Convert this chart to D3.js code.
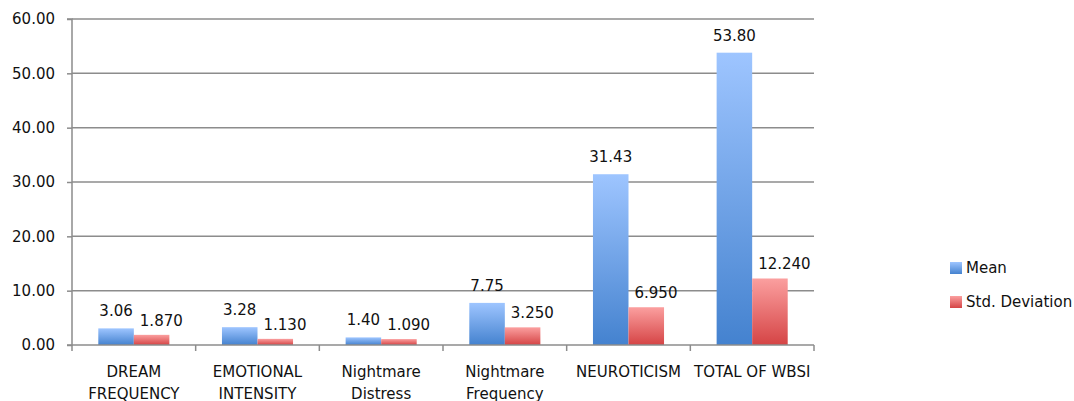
<!DOCTYPE html>
<html>
<head>
<meta charset="utf-8">
<script src="https://cdn.jsdelivr.net/npm/d3@7"></script>
<style>
  html, body { margin: 0; padding: 0; background: #fff; }
  svg { display: block; font-family: "DejaVu Sans", sans-serif; }
</style>
</head>
<body>
<svg id="chart" width="1074" height="401"></svg>
<script>
const categories = [
  ["DREAM", "FREQUENCY"],
  ["EMOTIONAL", "INTENSITY"],
  ["Nightmare", "Distress"],
  ["Nightmare", "Frequency"],
  ["NEUROTICISM"],
  ["TOTAL OF WBSI"]
];
const meanValues = [3.06, 3.28, 1.40, 7.75, 31.43, 53.80];
const sdValues = [1.870, 1.130, 1.090, 3.250, 6.950, 12.240];
const meanLabels = ["3.06", "3.28", "1.40", "7.75", "31.43", "53.80"];
const sdLabels = ["1.870", "1.130", "1.090", "3.250", "6.950", "12.240"];
const seriesNames = ["Mean", "Std. Deviation"];
const yTicks = [0, 10, 20, 30, 40, 50, 60];

const svg = d3.select("#chart");
const pLeft = 72, pRight = 814, pTop = 19, pBottom = 345;

const defs = svg.append("defs");
const gBlue = defs.append("linearGradient").attr("id", "gBlue")
  .attr("x1", 0).attr("y1", 0).attr("x2", 0).attr("y2", 1);
gBlue.append("stop").attr("offset", "0%").attr("stop-color", "#9ec5ff");
gBlue.append("stop").attr("offset", "100%").attr("stop-color", "#4482cf");
const gRed = defs.append("linearGradient").attr("id", "gRed")
  .attr("x1", 0).attr("y1", 0).attr("x2", 0).attr("y2", 1);
gRed.append("stop").attr("offset", "0%").attr("stop-color", "#fb9f9f");
gRed.append("stop").attr("offset", "100%").attr("stop-color", "#d54445");
const fills = ["url(#gBlue)", "url(#gRed)"];

const idx = d3.range(categories.length);
const x = d3.scaleBand().domain(idx).range([pLeft, pRight]).paddingInner(0).paddingOuter(0);
const xs = d3.scaleBand().domain([0, 1]).range([0, x.bandwidth()]).paddingInner(0).paddingOuter(0.74);
const y = d3.scaleLinear().domain([0, 60]).range([pBottom, pTop]);

// gridlines
svg.append("g").selectAll("line").data(yTicks.filter(t => t > 0)).join("line")
  .attr("x1", pLeft).attr("x2", pRight)
  .attr("y1", d => y(d)).attr("y2", d => y(d))
  .attr("stroke", "#8c8c8c").attr("stroke-width", 1.5);

// y axis
const yAxis = d3.axisLeft(y).tickValues(yTicks).tickFormat(d3.format(".2f"))
  .tickSize(5).tickPadding(12);
const ga = svg.append("g").attr("transform", `translate(${pLeft},0)`).call(yAxis);
ga.select(".domain").attr("stroke", "#8c8c8c").attr("stroke-width", 1.5)
  .attr("d", `M-5,${pTop}H0V${pBottom}H-5`);
ga.selectAll(".tick line").attr("stroke", "#8c8c8c").attr("stroke-width", 1.5);
ga.selectAll(".tick text").attr("font-size", 15).attr("fill", "#111")
  .attr("font-family", "DejaVu Sans, sans-serif");

// bars
const series = [meanValues, sdValues];
series.forEach((vals, s) => {
  svg.append("g").selectAll("rect").data(idx).join("rect")
    .attr("x", i => x(i) + xs(s))
    .attr("width", xs.bandwidth())
    .attr("y", i => y(vals[i]))
    .attr("height", i => y(0) - y(vals[i]))
    .attr("fill", fills[s]);
});

// x axis
const xAxis = d3.axisBottom(x).tickSize(0).tickFormat("");
const gx = svg.append("g").attr("transform", `translate(0,${pBottom})`).call(xAxis);
gx.select(".domain").attr("stroke", "#8c8c8c").attr("stroke-width", 1.5).attr("d", `M${pLeft},0H${pRight}`);
const bounds = idx.map(i => x(i)).concat([pRight]);
gx.selectAll(".sep").data(bounds).join("line").attr("class", "sep")
  .attr("x1", d => d).attr("x2", d => d).attr("y1", 0).attr("y2", 6)
  .attr("stroke", "#8c8c8c").attr("stroke-width", 1.5);

// category labels
const cl = svg.append("g").selectAll("text").data(idx).join("text")
  .attr("x", i => x(i) + x.bandwidth() / 2)
  .attr("y", 377)
  .attr("text-anchor", "middle")
  .attr("font-size", 15)
  .attr("fill", "#111");
cl.selectAll("tspan").data(i => categories[i].map(t => ({ t, cx: x(i) + x.bandwidth() / 2 }))).join("tspan")
  .attr("x", d => d.cx)
  .attr("dy", (d, j) => j === 0 ? 0 : 22)
  .text(d => d.t);

// value labels
svg.append("g").selectAll("text").data(idx).join("text")
  .attr("x", i => x(i) + xs(0) + xs.bandwidth() / 2)
  .attr("y", i => y(meanValues[i]) - 12)
  .attr("text-anchor", "middle")
  .attr("font-size", 15).attr("fill", "#111")
  .text(i => meanLabels[i]);
svg.append("g").selectAll("text").data(idx).join("text")
  .attr("x", i => x(i) + xs(1) + 6)
  .attr("y", i => y(sdValues[i]) - 9)
  .attr("text-anchor", "start")
  .attr("font-size", 15).attr("fill", "#111")
  .text(i => sdLabels[i]);

// legend
const lg = svg.append("g").selectAll("g").data(seriesNames).join("g")
  .attr("transform", (d, i) => `translate(950,${268 + i * 34})`);
lg.append("rect").attr("x", 0).attr("y", -6).attr("width", 12).attr("height", 12)
  .attr("fill", (d, i) => fills[i]);
lg.append("text").attr("x", 16).attr("y", 0).attr("dy", "0.35em")
  .attr("font-size", 15).attr("fill", "#111").text(d => d);
</script>
</body>
</html>
